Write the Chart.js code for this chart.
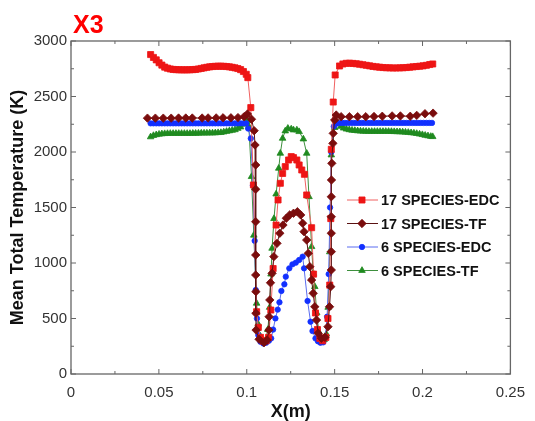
<!DOCTYPE html>
<html>
<head>
<meta charset="utf-8">
<script src="https://cdn.jsdelivr.net/npm/chart.js@4.4.1/dist/chart.umd.min.js"></script>
<style>
  html, body { margin: 0; padding: 0; background: #fff; }
  canvas { display: block; }
</style>
</head>
<body>
<canvas id="tempChart" width="535" height="421"></canvas>
<script>
// 17 SPECIES-EDC
const xEdc17 = [0.0453,0.0469,0.0485,0.0501,0.0517,0.0533,0.0549,0.0565,0.0581,0.0597,0.0613,0.0629,0.0645,0.0661,0.0677,0.0693,0.0709,0.0725,0.0741,0.0757,0.0773,0.0789,0.0805,0.0821,0.0837,0.0853,0.0869,0.0885,0.0901,0.0917,0.0933,0.0949,0.0965,0.0981,0.0997,0.1006,
  0.1023,0.1038,0.1056,0.1066,0.1078,0.1094,0.1110,0.1124,0.1137,0.1150,0.1167,0.1178,0.1191,0.1204,0.1219,0.1238,0.1253,0.1266,0.1285,0.1298,0.1313,0.1328,0.1341,0.1369,0.1380,0.1391,0.1402,0.1416,0.1432,0.1450,0.1462,0.1472,0.1478,0.1481,0.1492,0.1503,
  0.1528,0.1547,0.1566,0.1585,0.1604,0.1623,0.1642,0.1661,0.1680,0.1699,0.1718,0.1737,0.1756,0.1775,0.1794,0.1813,0.1832,0.1851,0.1870,0.1889,0.1908,0.1927,0.1946,0.1965,0.1984,0.2003,0.2022,0.2041,0.2058];
const tEdc17 = [2878,2852,2830,2804,2783,2765,2755,2748,2744,2742,2741,2740,2740,2740,2741,2742,2744,2748,2753,2758,2763,2767,2770,2772,2773,2773,2772,2770,2767,2763,2758,2752,2742,2725,2700,2670,
  2400,1703,561,420,330,295,300,330,576,950,1342,1568,1718,1807,1868,1928,1958,1949,1928,1883,1838,1799,1613,1318,900,550,400,320,300,330,500,801,1400,2024,2450,2694,
  2775,2793,2799,2800,2798,2795,2791,2786,2781,2776,2771,2767,2764,2761,2759,2758,2757,2757,2758,2759,2761,2764,2767,2770,2773,2776,2781,2788,2793];

// 17 SPECIES-TF
const xTf17 = [0.0435,0.0480,0.0525,0.0570,0.0612,0.0653,0.0690,0.0746,0.0780,0.0826,0.0865,0.0910,0.0950,0.0985,0.1004,0.1027,0.1042,0.1047,
  0.1051,0.1051,0.1051,0.1051,0.1051,0.1052,0.1052,0.1053,0.1070,0.1098,0.1116,0.1126,0.1127,0.1131,0.1135,0.1144,0.1154,
  0.1172,0.1188,0.1206,0.1225,0.1244,0.1266,0.1288,0.1307,0.1318,0.1326,0.1341,0.1350,0.1359,0.1369,0.1378,0.1387,0.1397,0.1406,0.1425,0.1445,
  0.1462,0.1471,0.1478,0.1481,0.1481,0.1481,0.1481,0.1481,0.1482,0.1484,0.1490,0.1492,0.1500,0.1509,
  0.1537,0.1584,0.1631,0.1677,0.1724,0.1771,0.1827,0.1874,0.1930,0.1967,0.2014,0.2060];
const tTf17 = [2305,2305,2305,2305,2306,2306,2306,2306,2307,2307,2308,2308,2310,2318,2342,2295,2192,2063,
  1883,1664,1372,1072,892,742,547,396,313,282,306,396,516,667,822,907,1057,
  1177,1268,1342,1403,1433,1448,1462,1433,1358,1282,1207,1087,967,847,727,606,486,367,322,330,
  426,606,787,937,1102,1268,1417,1597,1748,1898,2078,2168,2288,2333,
  2318,2318,2318,2318,2320,2322,2325,2325,2322,2330,2345,2350];

// 6 SPECIES-EDC
const xEdc6 = [0.0453,0.0469,0.0485,0.0501,0.0517,0.0533,0.0549,0.0565,0.0581,0.0597,0.0613,0.0629,0.0645,0.0661,0.0677,0.0693,0.0709,0.0725,0.0741,0.0757,0.0773,0.0789,0.0805,0.0821,0.0837,0.0853,0.0869,0.0885,0.0901,0.0917,0.0933,0.0949,0.0965,0.0981,0.0997,
  0.1008,0.1023,0.1035,0.1045,0.1051,0.1058,0.1066,0.1078,0.1094,0.1110,0.1126,0.1139,0.1150,0.1163,0.1176,0.1186,0.1197,0.1214,0.1222,0.1242,0.1260,0.1279,0.1298,0.1318,
  0.1326,0.1346,0.1363,0.1374,0.1391,0.1405,0.1419,0.1435,0.1447,0.1457,0.1466,0.1474,0.1481,0.1495,0.1510,
  0.1526,0.1542,0.1558,0.1574,0.1590,0.1606,0.1622,0.1638,0.1654,0.1670,0.1686,0.1702,0.1718,0.1734,0.1750,0.1766,0.1782,0.1798,0.1814,0.1830,0.1846,0.1862,0.1878,0.1894,0.1910,0.1926,0.1942,0.1958,0.1974,0.1990,0.2006,0.2022,0.2038,0.2054];
const tEdc6 = [2258,2258,2258,2258,2258,2258,2258,2258,2258,2258,2258,2258,2258,2258,2258,2258,2258,2258,2258,2258,2258,2258,2258,2258,2258,2258,2258,2258,2258,2258,2258,2258,2258,2258,2258,
  2211,2122,1700,1200,757,500,350,290,275,282,300,321,400,501,580,646,748,808,877,952,988,1003,1027,1057,
  952,658,471,387,321,295,282,285,330,516,900,1500,2000,2230,2255,
  2262,2262,2262,2262,2262,2262,2262,2262,2262,2262,2262,2262,2262,2262,2262,2262,2262,2262,2262,2262,2262,2262,2262,2262,2262,2262,2262,2262,2262,2262,2262,2262,2262,2262];

// 6 SPECIES-TF
const xTf6 = [0.0453,0.0469,0.0485,0.0501,0.0517,0.0533,0.0549,0.0565,0.0581,0.0597,0.0613,0.0629,0.0645,0.0661,0.0677,0.0693,0.0709,0.0725,0.0741,0.0757,0.0773,0.0789,0.0805,0.0821,0.0837,0.0853,0.0869,0.0885,0.0901,0.0917,0.0933,0.0949,0.0965,0.0981,0.0997,0.1005,
  0.1012,0.1027,0.1040,0.1056,0.1065,0.1078,0.1094,0.1108,0.1120,0.1130,0.1138,0.1144,0.1155,0.1167,0.1182,0.1191,0.1204,0.1219,0.1234,0.1253,0.1266,0.1285,0.1298,0.1322,
  0.1341,0.1354,0.1369,0.1378,0.1387,0.1398,0.1410,0.1425,0.1440,0.1453,0.1463,0.1472,0.1481,0.1500,0.1519,
  0.1535,0.1551,0.1567,0.1583,0.1599,0.1615,0.1631,0.1647,0.1663,0.1679,0.1695,0.1711,0.1727,0.1743,0.1759,0.1775,0.1791,0.1807,0.1823,0.1839,0.1855,0.1871,0.1887,0.1903,0.1919,0.1935,0.1951,0.1967,0.1983,0.1999,0.2015,0.2031,0.2047,0.2058];
const tTf6 = [2136,2148,2155,2160,2163,2165,2166,2167,2167,2167,2167,2167,2167,2167,2167,2168,2168,2169,2170,2170,2170,2171,2171,2172,2174,2175,2180,2185,2190,2195,2200,2212,2225,2250,2272,2282,
  2230,1778,1250,637,450,340,300,310,400,600,900,1132,1400,1621,1853,1988,2123,2189,2213,2207,2198,2198,2183,2117,
  1988,1597,1147,907,787,550,380,320,310,360,600,1100,1973,2220,2258,
  2230,2215,2206,2200,2196,2193,2190,2188,2187,2186,2185,2185,2185,2185,2185,2185,2185,2185,2184,2183,2182,2181,2180,2178,2176,2173,2170,2166,2161,2156,2150,2145,2140,2138];

const seriesNames = ["17 SPECIES-EDC", "17 SPECIES-TF", "6 SPECIES-EDC", "6 SPECIES-TF"];
const xTicks = [0, 0.05, 0.1, 0.15, 0.2, 0.25];
const yTicks = [0, 500, 1000, 1500, 2000, 2500, 3000];

function pts(xs, ys) {
  return xs.map((x, i) => ({ x: x, y: ys[i] }));
}

const datasets = [
  { label: seriesNames[0], data: pts(xEdc17, tEdc17), borderColor: "#f06060", backgroundColor: "#ee1515",
    pointBorderColor: "#ee1515", pointStyle: "rect", pointRadius: 4.3, order: 2 },
  { label: seriesNames[1], data: pts(xTf17, tTf17), borderColor: "#5a1212", backgroundColor: "#7a0d0d",
    pointBorderColor: "#7a0d0d", pointStyle: "rectRot", pointRadius: 4.2, order: 1 },
  { label: seriesNames[2], data: pts(xEdc6, tEdc6), borderColor: "#5a6cf0", backgroundColor: "#1230ff",
    pointBorderColor: "#1230ff", pointStyle: "circle", pointRadius: 2.7, order: 3 },
  { label: seriesNames[3], data: pts(xTf6, tTf6), borderColor: "#3d8f3d", backgroundColor: "#1f8a1f",
    pointBorderColor: "#1f8a1f", pointStyle: "triangle", pointRadius: 3.8, order: 4 }
];
datasets.forEach(d => {
  d.borderWidth = 1;
  d.pointBorderWidth = 0.8;
  d.tension = 0;
  d.fill = false;
});

// frame with inward ticks on all four sides
const framePlugin = {
  id: "frame",
  beforeDatasetsDraw(chart) {
    const { ctx, chartArea: a, scales } = chart;
    ctx.save();
    ctx.strokeStyle = "#666";
    ctx.lineWidth = 1.3;
    ctx.strokeRect(a.left, a.top, a.right - a.left, a.bottom - a.top);
    ctx.lineWidth = 1;
    ctx.beginPath();
    for (let i = 0; i <= 10; i++) {
      const v = i * 0.025;
      const px = scales.x.getPixelForValue(v);
      const len = i % 2 === 0 ? 5 : 3;
      ctx.moveTo(px, a.bottom); ctx.lineTo(px, a.bottom - len);
      ctx.moveTo(px, a.top); ctx.lineTo(px, a.top + len);
    }
    for (let i = 0; i <= 12; i++) {
      const v = i * 250;
      const py = scales.y.getPixelForValue(v);
      const len = i % 2 === 0 ? 5 : 3;
      ctx.moveTo(a.left, py); ctx.lineTo(a.left + len, py);
      ctx.moveTo(a.right, py); ctx.lineTo(a.right - len, py);
    }
    ctx.stroke();
    ctx.restore();
  }
};

// legend inside the plot, plus the red panel tag
const legendPlugin = {
  id: "innerLegend",
  afterDraw(chart) {
    const { ctx } = chart;
    ctx.save();
    const rows = [200, 223.5, 247, 270.5];
    chart.data.datasets.forEach((d, i) => {
      const y = rows[i];
      ctx.strokeStyle = d.borderColor;
      ctx.lineWidth = 1;
      ctx.beginPath();
      ctx.moveTo(347, y); ctx.lineTo(378, y);
      ctx.stroke();
      ctx.fillStyle = d.backgroundColor;
      ctx.strokeStyle = d.pointBorderColor;
      ctx.lineWidth = d.pointBorderWidth;
      Chart.helpers.drawPoint(ctx, { pointStyle: d.pointStyle, radius: d.pointRadius, rotation: 0, borderWidth: d.pointBorderWidth }, 362, y);
      ctx.fillStyle = "#111";
      ctx.font = "bold 14.5px 'Liberation Sans', Arial, sans-serif";
      ctx.textBaseline = "middle";
      ctx.fillText(d.label, 381, y + 1);
    });
    ctx.fillStyle = "#ff0000";
    ctx.font = "bold 25px 'Liberation Sans', Arial, sans-serif";
    ctx.textBaseline = "alphabetic";
    ctx.fillText("X3", 73, 33);
    ctx.restore();
  }
};

const tickFont = { family: "'Liberation Sans', Arial, sans-serif", size: 15 };
const titleFont = { family: "'Liberation Sans', Arial, sans-serif", size: 18, weight: "bold" };

new Chart(document.getElementById("tempChart").getContext("2d"), {
  type: "line",
  data: { datasets: datasets },
  options: {
    responsive: false,
    animation: false,
    layout: { padding: { top: 41, right: 18, left: 0, bottom: 0 } },
    scales: {
      x: {
        type: "linear",
        min: 0,
        max: 0.25,
        afterBuildTicks: s => { s.ticks = xTicks.map(v => ({ value: v })); },
        afterFit: s => { s.height = 47; },
        ticks: { font: tickFont, color: "#333", padding: 10, maxRotation: 0,
          callback: v => String(+Number(v).toFixed(2)) },
        grid: { display: false, drawTicks: false },
        border: { display: false },
        title: { display: true, text: "X(m)", font: titleFont, color: "#111", padding: { top: 0, bottom: -2 } }
      },
      y: {
        min: 0,
        max: 3000,
        afterBuildTicks: s => { s.ticks = yTicks.map(v => ({ value: v })); },
        afterFit: s => { s.width = 71; },
        ticks: { font: tickFont, color: "#333", padding: 4, callback: v => String(v) },
        grid: { display: false, drawTicks: false },
        border: { display: false },
        title: { display: true, text: "Mean Total Temperature (K)", font: titleFont, color: "#111", padding: { top: 7, bottom: 0 } }
      }
    },
    plugins: {
      legend: { display: false },
      tooltip: { enabled: false }
    }
  },
  plugins: [framePlugin, legendPlugin]
});
</script>
</body>
</html>
